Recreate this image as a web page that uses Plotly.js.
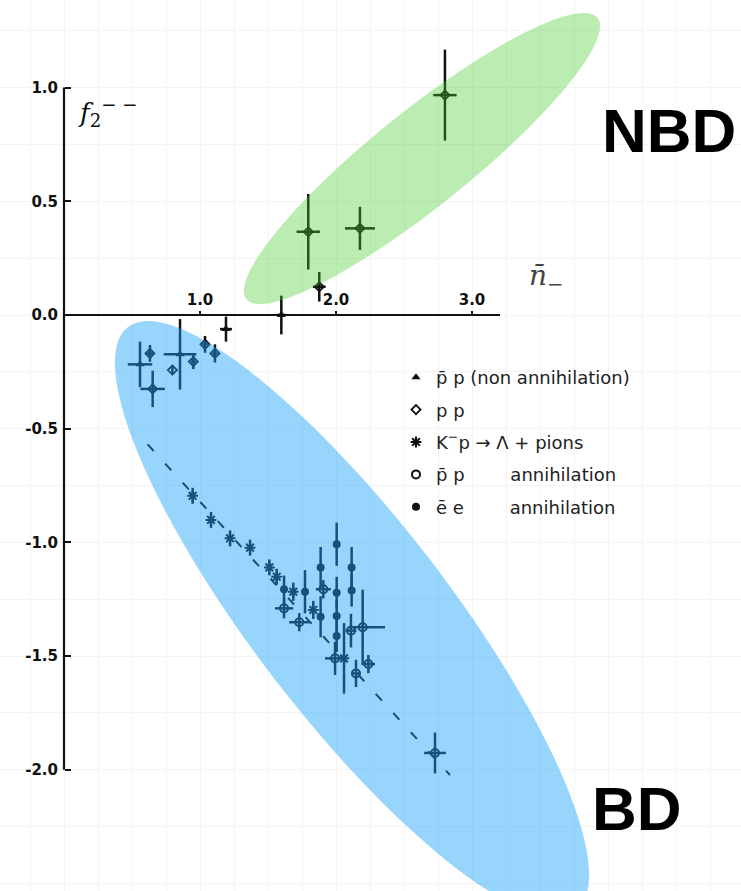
<!DOCTYPE html>
<html><head><meta charset="utf-8">
<script src="https://cdn.plot.ly/plotly-3.0.1.min.js"></script>
<style>html,body{margin:0;padding:0;background:#fff;}#chart{width:741px;height:891px;}</style>
</head><body><div id="chart"></div>
<script>
// ---- data ----
const nonAnnX  = [1.598, 1.191, 0.853, 0.559];
const nonAnnY  = [0.000, -0.062, -0.173, -0.217];
const nonAnnEy = [0.085, 0.055, 0.155, 0.100];
const nonAnnEx = [0.030, 0.044, 0.120, 0.090];

const ppX  = [1.796, 1.877, 2.176, 2.801, 0.632, 0.652, 0.797, 0.951, 1.037, 1.110];
const ppY  = [0.366, 0.124, 0.381, 0.967, -0.169, -0.325, -0.242, -0.205, -0.129, -0.169];
const ppEy = [0.166, 0.065, 0.095, 0.200, 0.037, 0.080, 0.022, 0.033, 0.037, 0.040];
const ppEx = [0.086, 0.047, 0.110, 0.086, 0.030, 0.090, 0.000, 0.020, 0.020, 0.020];

const kpX  = [0.946, 1.081, 1.221, 1.368, 1.510, 1.564, 1.686, 1.833, 2.059];
const kpY  = [-0.795, -0.901, -0.982, -1.023, -1.110, -1.151, -1.217, -1.297, -1.510];
const kpEy = [0.035, 0.035, 0.035, 0.035, 0.035, 0.035, 0.040, 0.040, 0.155];

const annX  = [1.618, 1.730, 1.907, 2.110, 2.196, 1.993, 2.238, 2.147, 2.728];
const annY  = [-1.290, -1.351, -1.206, -1.388, -1.373, -1.510, -1.535, -1.576, -1.926];
const annEy = [0.044, 0.040, 0.040, 0.074, 0.165, 0.073, 0.040, 0.060, 0.090];
const annExPlus  = [0.067, 0.074, 0.055, 0.040, 0.164, 0.074, 0.049, 0.030, 0.080];
const annExMinus = [0.067, 0.074, 0.055, 0.040, 0.069, 0.074, 0.049, 0.030, 0.080];

const eeX  = [1.618, 1.772, 1.887, 1.887, 2.005, 2.005, 2.005, 2.005, 2.115, 2.115];
const eeY  = [-1.206, -1.217, -1.110, -1.327, -1.008, -1.221, -1.324, -1.412, -1.110, -1.212];
const eeEy = [0.060, 0.095, 0.090, 0.090, 0.095, 0.070, 0.070, 0.070, 0.090, 0.070];

const refLineX = [0.615, 2.838];
const refLineY = [-0.569, -2.023];

const yTickVals = [1.0, 0.5, 0.0, -0.5, -1.0, -1.5, -2.0];
const yTickText = ['1.0', '0.5', '0.0', '-0.5', '-1.0', '-1.5', '-2.0'];
const xTickVals = [1.0, 2.0, 3.0];
const xTickText = ['1.0', '2.0', '3.0'];

const NB = '\u00a0';
const legendNames = [
  'p\u0304 p (non annihilation)',
  'p p',
  'K<sup>\u2212</sup>p \u2192 \u039B + pions',
  'p\u0304 p' + NB.repeat(8) + 'annihilation',
  '\u0113 e' + NB.repeat(8) + 'annihilation'
];

// ---- layout geometry ----
const W = 741, H = 891;
const X0PX = 64, XUNIT = 136, Y0PX = 315, YUNIT = 227.4;
const xr = [-X0PX / XUNIT, (W - X0PX) / XUNIT];
const yr = [(Y0PX - H) / YUNIT, Y0PX / YUNIT];
const dx = px => (px - X0PX) / XUNIT;
const dy = py => (Y0PX - py) / YUNIT;

function ellipsePath(cx, cy, a, b, deg) {
  const th = deg * Math.PI / 180, c = Math.cos(th), s = Math.sin(th);
  let p = '';
  for (let i = 0; i <= 120; i++) {
    const t = i / 120 * 2 * Math.PI;
    const ex = cx + a * Math.cos(t) * c - b * Math.sin(t) * s;
    const ey = cy + a * Math.cos(t) * s + b * Math.sin(t) * c;
    p += (i ? 'L' : 'M') + dx(ex).toFixed(4) + ',' + dy(ey).toFixed(4);
  }
  return p + 'Z';
}

const INK = '#111';
function errY(arr) { return {type: 'data', array: arr, visible: true, color: INK, thickness: 2.5, width: 0}; }
function errX(arr, minus) {
  const o = {type: 'data', array: arr, visible: true, color: INK, thickness: 2.5, width: 0};
  if (minus) { o.symmetric = false; o.arrayminus = minus; }
  return o;
}

const traces = [
  {x: refLineX, y: refLineY, mode: 'lines', showlegend: false,
   line: {color: INK, width: 2, dash: '9px,17px'}},
  {x: nonAnnX, y: nonAnnY, mode: 'markers', name: legendNames[0], legendgroup: 'a',
   marker: {symbol: 'triangle-up', size: 8, color: INK},
   error_y: errY(nonAnnEy), error_x: errX(nonAnnEx)},
  {x: ppX, y: ppY, mode: 'markers', name: legendNames[1], legendgroup: 'b',
   marker: {symbol: 'diamond-open', size: 7, color: INK, line: {width: 1.8, color: INK}},
   error_y: errY(ppEy), error_x: errX(ppEx)},
  {x: kpX, y: kpY, mode: 'markers', name: legendNames[2], legendgroup: 'c',
   marker: {symbol: 'asterisk-open', size: 9, color: INK, line: {width: 2, color: INK}},
   error_y: errY(kpEy)},
  {x: annX, y: annY, mode: 'markers', name: legendNames[3], legendgroup: 'd',
   marker: {symbol: 'circle-open', size: 8, color: INK, line: {width: 2, color: INK}},
   error_y: errY(annEy), error_x: errX(annExPlus, annExMinus)},
  {x: eeX, y: eeY, mode: 'markers', name: legendNames[4], legendgroup: 'e',
   marker: {symbol: 'circle', size: 8, color: INK},
   error_y: errY(eeEy)}
];

const axisFont = {family: 'DejaVu Sans', size: 15, color: INK, weight: 'bold'};

const layout = {
  width: W, height: H,
  margin: {l: 0, r: 0, t: 0, b: 0, pad: 0},
  paper_bgcolor: '#fff', plot_bgcolor: '#fff',
  showlegend: true,
  legend: {x: 396 / W, y: 1 - 359 / H, xanchor: 'left', yanchor: 'top',
           bgcolor: 'rgba(0,0,0,0)', borderwidth: 0, tracegroupgap: 6,
           font: {family: 'DejaVu Sans', size: 18, color: '#222'}},
  xaxis: {range: xr, anchor: 'free', position: 1 - Y0PX / H, side: 'top',
          tickmode: 'array', tickvals: xTickVals, ticktext: xTickText,
          ticks: 'outside', ticklen: 4, tickwidth: 2, tickcolor: INK,
          showline: false, zeroline: false, showgrid: false,
          minor: {dtick: 0.25, tick0: 0, showgrid: true, gridcolor: '#f4f4f4', gridwidth: 1},
          tickfont: axisFont, fixedrange: true},
  yaxis: {range: yr, anchor: 'free', position: X0PX / W, side: 'left',
          tickmode: 'array', tickvals: yTickVals, ticktext: yTickText,
          ticks: 'inside', ticklen: 6, tickwidth: 2, tickcolor: INK,
          ticklabelstandoff: 6,
          showline: false, zeroline: false, showgrid: false,
          minor: {dtick: 0.25, tick0: 0, showgrid: true, gridcolor: '#f4f4f4', gridwidth: 1},
          tickfont: axisFont, fixedrange: true},
  shapes: [
    {type: 'line', xref: 'x', yref: 'y', x0: 0, x1: 3.206, y0: 0, y1: 0, line: {color: INK, width: 2.2}},
    {type: 'line', xref: 'x', yref: 'y', x0: 0, x1: 0, y0: -2.0, y1: 1.0, line: {color: INK, width: 2.2}},
    {type: 'path', xref: 'x', yref: 'y', layer: 'above', path: ellipsePath(422, 158.5, 225, 48, -38.7),
     fillcolor: 'rgb(70,205,45)', opacity: 0.37, line: {width: 0}},
    {type: 'path', xref: 'x', yref: 'y', layer: 'above', path: ellipsePath(352, 619, 368, 98, 52.5),
     fillcolor: 'rgb(27,162,250)', opacity: 0.45, line: {width: 0}}
  ],
  annotations: [
    {xref: 'x', yref: 'y', x: dx(76), y: dy(92), xanchor: 'left', yanchor: 'top', showarrow: false,
     text: '<i>f</i><sub>2</sub><sup>\u2212 \u2212</sup>', font: {family: 'DejaVu Serif', size: 26, color: INK}},
    {xref: 'x', yref: 'y', x: dx(546), y: dy(277), xanchor: 'center', yanchor: 'middle', showarrow: false,
     text: '<i>n\u0304</i><sub>\u2212</sub>', font: {family: 'DejaVu Serif', size: 28, color: '#444'}},
    {xref: 'x', yref: 'y', x: dx(669), y: dy(130), xanchor: 'center', yanchor: 'middle', showarrow: false,
     text: '<b>NBD</b>', font: {family: 'Liberation Sans', size: 62, color: '#000'}},
    {xref: 'x', yref: 'y', x: dx(637), y: dy(808), xanchor: 'center', yanchor: 'middle', showarrow: false,
     text: '<b>BD</b>', font: {family: 'Liberation Sans', size: 62, color: '#000'}}
  ],
  hovermode: false
};

Plotly.newPlot('chart', traces, layout, {staticPlot: true, displayModeBar: false});
</script>
</body></html>
